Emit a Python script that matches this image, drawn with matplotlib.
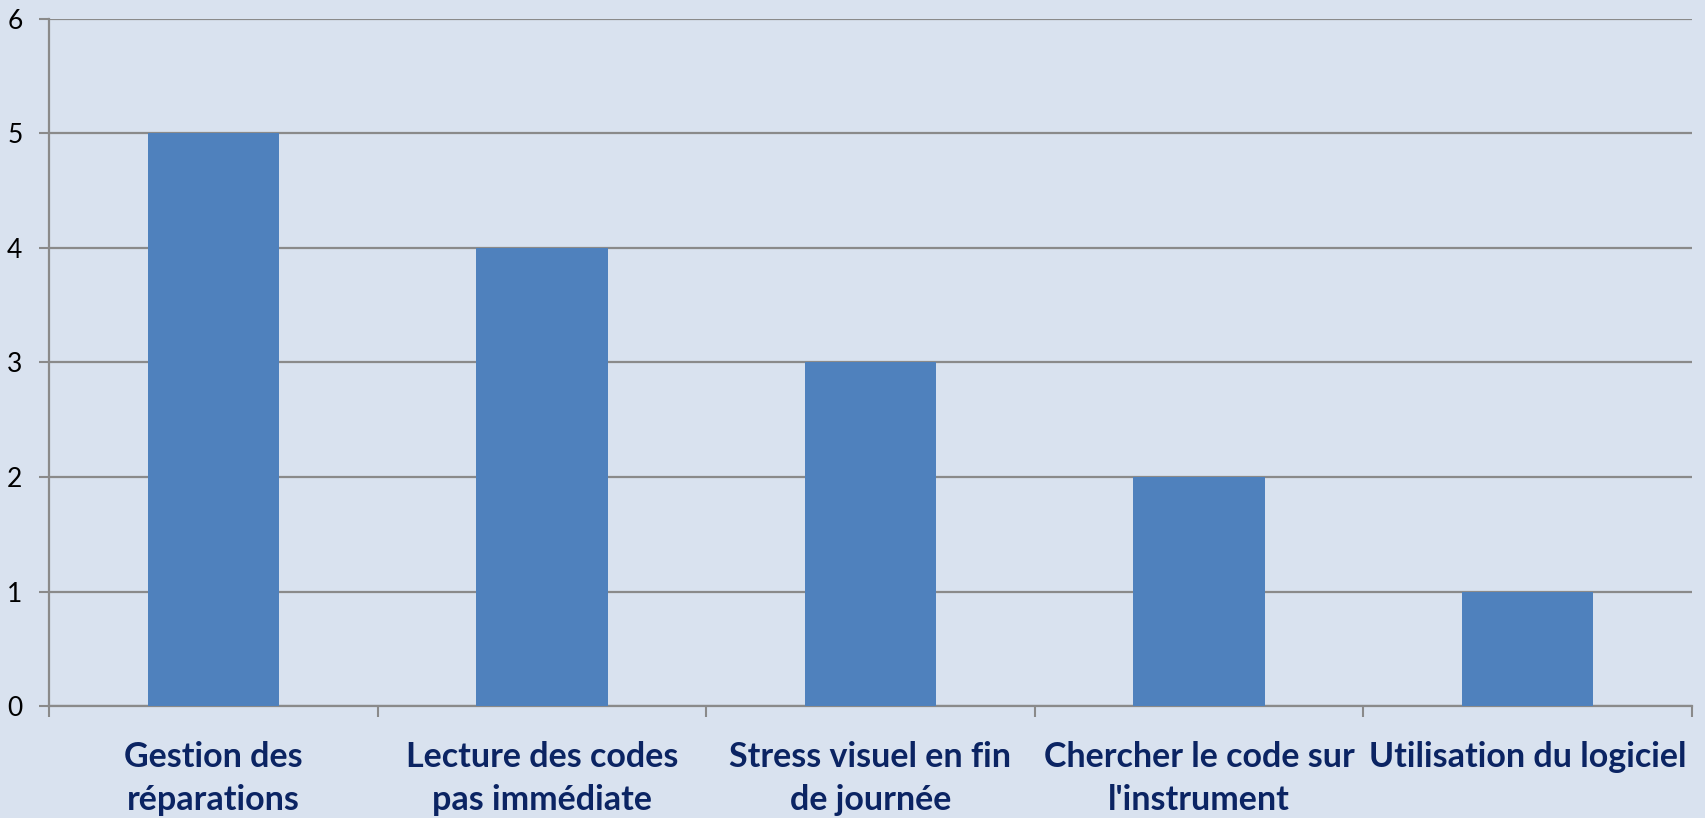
import matplotlib
matplotlib.use('Agg')
from matplotlib import pyplot as plt
import numpy as np

categories = ['Gestion des\nréparations', 'Lecture des codes\npas immédiate',
              'Stress visuel en fin\nde journée', 'Chercher le code sur\nl\'instrument',
              'Utilisation du logiciel']
values = [5, 4, 3, 2, 1]
yticks = [0, 1, 2, 3, 4, 5, 6]

bg = '#d9e2ef'
grid_col = '#8a8a8a'
bar_col = '#4f81bd'
label_col = '#0b2463'

fig = plt.figure(figsize=(17.05, 8.18), dpi=100, facecolor=bg)
ax = fig.add_axes([0.0287, 0.1369, 0.9637, 0.8399])
ax.set_facecolor(bg)

x = np.arange(len(values))
ax.bar(x, values, width=0.4, color=bar_col, zorder=3)

ax.set_xlim(-0.5, len(values) - 0.5)
ax.set_ylim(0, 6)
ax.set_yticks(yticks)
ax.yaxis.grid(True, color=grid_col, linewidth=1.6, zorder=0)
ax.tick_params(axis='y', length=7, width=1.5, color=grid_col, pad=12,
               labelsize=19, labelcolor='black')
for lab in ax.get_yticklabels():
    lab.set_family('Lato')

ax.set_xticks(x)
ax.set_xticklabels(categories, fontsize=24.5, fontweight='bold', color=label_col,
                   family='Lato', linespacing=1.42)
ax.tick_params(axis='x', length=0, pad=25)
ax.set_xticks(np.arange(len(values) + 1) - 0.5, minor=True)
ax.tick_params(axis='x', which='minor', length=8, width=1.5, color=grid_col)

for side in ['top', 'right']:
    ax.spines[side].set_visible(False)
for side in ['left', 'bottom']:
    ax.spines[side].set_color(grid_col)
    ax.spines[side].set_linewidth(1.6)

fig.savefig('out.png', dpi=100, facecolor=bg)
